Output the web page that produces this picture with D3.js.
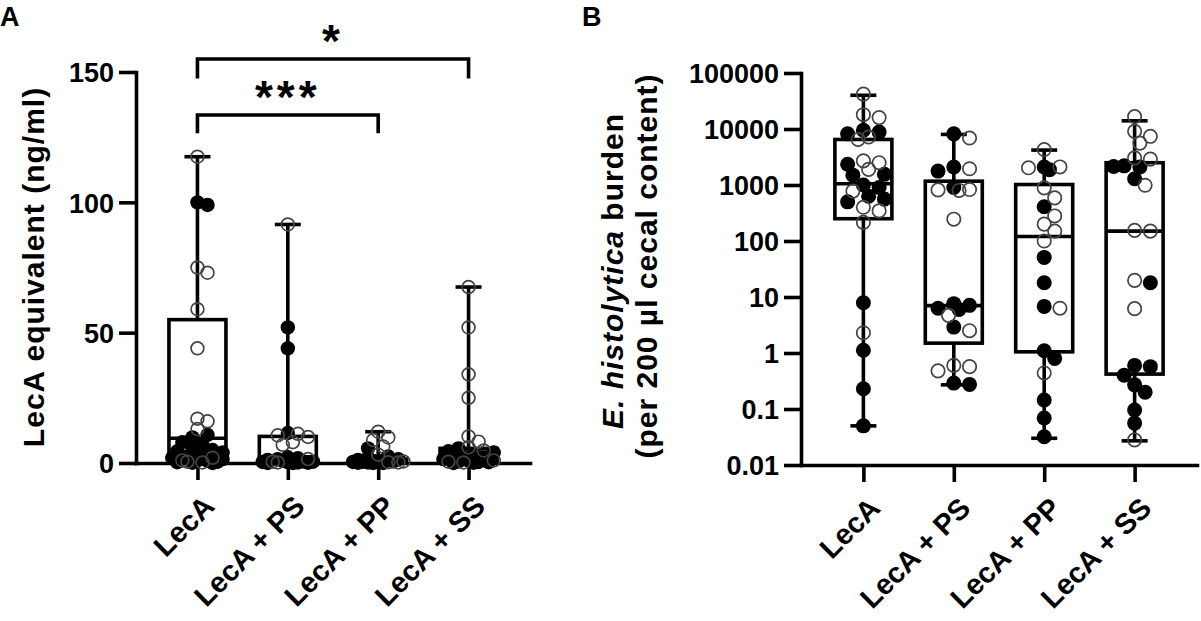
<!DOCTYPE html>
<html>
<head>
<meta charset="utf-8">
<script src="https://cdn.jsdelivr.net/npm/d3@7/dist/d3.min.js"></script>
<style>
  body { margin: 0; background: #fff; }
  text { font-family: "Liberation Sans", Arial, sans-serif; font-weight: bold; fill: #000; }
</style>
</head>
<body>
<div id="graph"></div>
<script>
// group names (same for both panels)
const groups = ["LecA", "LecA + PS", "LecA + PP", "LecA + SS"];

// panel A - LecA equivalent (ng/ml), one list per group
const aFilled = [
  [100, 99, 10.8, 9.8, 8, 7, 6, 5, 4.5, 4, 3, 2.5, 2, 1.5, 1, 0.8, 0.5, 0.3, 0.1, 0],
  [52, 44, 11.5, 2.2, 1.8, 1.5, 1.2, 1, 0.8, 0.6, 0.5, 0.4, 0.3, 0.2, 0.1, 0, 0],
  [5.6, 2.5, 2, 1.5, 1.2, 1, 0.8, 0.6, 0.5, 0.4, 0.3, 0.2, 0.1, 0, 0],
  [5.6, 4.5, 4, 3, 2.2, 1.8, 1.5, 1.2, 0.9, 0.6, 0.4, 0.3, 0.1, 0]
];
const aOpen = [
  [117.5, 75, 73, 59, 44, 17, 16, 13, 2, 1, 0.5, 0.2],
  [91.5, 11.2, 10.6, 10, 8, 7, 1.5, 0.5, 0.2],
  [12, 9.8, 8.8, 6.3, 3.2, 0.6, 0.3, 0.2],
  [67.5, 52, 34, 25, 10.2, 8.2, 6, 4.8, 1, 0.5, 0.2]
];
// box + whiskers (min to max)
const aMin = [0, 0, 0, 0];
const aQ1 = [0.4, 0.3, 0.2, 0.4];
const aMed = [9.5, 2.4, 0.6, 4.2];
const aQ3 = [55, 10.2, 1.5, 5.6];
const aMax = [117.5, 91.5, 12, 67.5];
const aTicks = [0, 50, 100, 150];

// significance brackets on panel A
const sigFrom = ["LecA", "LecA"];
const sigTo = ["LecA + SS", "LecA + PP"];
const sigText = ["*", "***"];
const sigBar = [155, 133.5];
const sigDrop = [147.5, 126.5];

// panel B - E. histolytica burden (per 200 ul cecal content)
const bFilled = [
  [9500, 8800, 8200, 2350, 1550, 1500, 1000, 900, 630, 560, 500, 7.9, 1.12, 0.23, 0.05],
  [8200, 2100, 1770, 900, 7.6, 7.1, 6.3, 6.0, 2.9, 0.29, 0.275],
  [2100, 1880, 410, 51, 18, 6.8, 1.1, 0.8, 0.145, 0.069, 0.032],
  [2200, 2140, 2100, 1290, 18, 0.6, 0.57, 0.4, 0.27, 0.2, 0.096, 0.056]
];
const bOpen = [
  [42000, 18000, 16000, 7200, 6500, 2700, 2500, 1900, 780, 400, 345, 215, 2.3],
  [6900, 1950, 830, 820, 800, 245, 4.7, 2.5, 0.6, 0.57, 0.48],
  [4300, 2100, 2030, 890, 590, 280, 200, 150, 100, 6.3, 0.44],
  [16700, 9100, 7400, 5600, 3050, 2900, 990, 155, 150, 19.8, 6.2, 0.028]
];
const bMin = [0.05, 0.27, 0.03, 0.027];
const bQ1 = [250, 1.5, 1.05, 0.42];
const bMed = [1050, 7, 120, 150];
const bQ3 = [6500, 1170, 1020, 2500];
const bMax = [40000, 8000, 4200, 14000];
const bTicks = [0.01, 0.1, 1, 10, 100, 1000, 10000, 100000];

const W = 1201, H = 621;
const lw = 3.6;

const svg = d3.select("#graph")
  .append("svg")
    .attr("width", W)
    .attr("height", H);

// simple deterministic swarm: spread points of similar value sideways
function swarm(filled, open, cx, y, r, maxOff, tight) {
  const pts = filled.map(v => ({v: v, filled: true}))
    .concat(open.map(v => ({v: v, filled: false})))
    .map(p => { p.py = y(p.v); return p; })
    .sort((a, b) => a.py - b.py);
  const placed = [];
  const step = r * 0.7, minD = r * tight;
  pts.forEach(p => {
    let best = 0, bestD = -1, done = false;
    for (let k = 0; k * step <= maxOff && !done; k++) {
      const cands = k === 0 ? [0] : [k * step, -k * step];
      for (const off of cands) {
        let d = Infinity;
        placed.forEach(q => { d = Math.min(d, Math.hypot(q.dx - off, q.py - p.py)); });
        if (d >= minD) { best = off; done = true; break; }
        if (d > bestD) { bestD = d; best = off; }
      }
    }
    p.dx = best;
    p.cx = cx + best;
    placed.push(p);
  });
  return pts;
}

function drawPanel(o) {
  const g = svg.append("g");

  // y axis
  const yAxis = g.append("g")
    .attr("transform", "translate(" + o.x.range()[0] + ",0)")
    .call(d3.axisLeft(o.y).tickValues(o.ticks).tickFormat(o.fmt)
      .tickSize(17).tickSizeOuter(0).tickPadding(5));

  // x axis
  const xAxis = g.append("g")
    .attr("transform", "translate(0," + o.y.range()[0] + ")")
    .call(d3.axisBottom(o.x).tickSize(17).tickSizeOuter(0));

  [yAxis, xAxis].forEach(a => {
    a.select(".domain").attr("stroke", "#000").attr("stroke-width", lw).attr("stroke-linecap", "square");
    a.selectAll(".tick line").attr("stroke", "#000").attr("stroke-width", lw);
  });
  yAxis.selectAll(".tick text")
    .style("font-size", "27px")
    .attr("dy", "0.36em");
  xAxis.selectAll(".tick text")
    .style("font-size", "29px")
    .attr("text-anchor", "end")
    .attr("x", 0).attr("y", 0).attr("dy", 0)
    .attr("transform", "translate(18,45) rotate(-45)");

  // boxes and whiskers
  groups.forEach((name, i) => {
    const cx = o.x(name);
    const hw = 28.5, cw = 13;
    const box = g.append("g")
      .attr("stroke", "#000")
      .attr("stroke-width", lw)
      .attr("fill", "none");
    box.append("line")
      .attr("x1", cx).attr("x2", cx)
      .attr("y1", o.y(o.max[i])).attr("y2", o.y(o.q3[i]));
    box.append("line")
      .attr("x1", cx).attr("x2", cx)
      .attr("y1", o.y(o.q1[i])).attr("y2", o.y(o.min[i]));
    [o.max[i], o.min[i]].forEach(v => {
      box.append("line")
        .attr("x1", cx - cw).attr("x2", cx + cw)
        .attr("y1", o.y(v)).attr("y2", o.y(v));
    });
    box.append("rect")
      .attr("x", cx - hw)
      .attr("width", hw * 2)
      .attr("y", o.y(o.q3[i]))
      .attr("height", o.y(o.q1[i]) - o.y(o.q3[i]));
    box.append("line")
      .attr("x1", cx - hw).attr("x2", cx + hw)
      .attr("y1", o.y(o.med[i])).attr("y2", o.y(o.med[i]));

    // points
    const pts = swarm(o.filled[i], o.open[i], cx, o.y, o.r, o.spread, o.tight);
    g.selectAll(null)
      .data(pts.filter(p => p.filled))
      .enter()
      .append("circle")
        .attr("cx", p => p.cx)
        .attr("cy", p => p.py)
        .attr("r", o.r)
        .attr("fill", "#000");
    g.selectAll(null)
      .data(pts.filter(p => !p.filled))
      .enter()
      .append("circle")
        .attr("cx", p => p.cx)
        .attr("cy", p => p.py)
        .attr("r", o.r - 0.8)
        .attr("fill", "none")
        .attr("stroke", "#444")
        .attr("stroke-width", 1.7);
  });

  return g;
}

// panel A scales
const xA = d3.scalePoint().domain(groups).range([136, 530]).padding(0.68);
const yA = d3.scaleLinear().domain([0, 150]).range([463, 72]);

drawPanel({
  x: xA, y: yA, ticks: aTicks, fmt: d3.format("d"),
  filled: aFilled, open: aOpen,
  min: aMin, q1: aQ1, med: aMed, q3: aQ3, max: aMax,
  r: 7.2, spread: 27, tight: 1.3
});

// panel B scales
const xB = d3.scalePoint().domain(groups).range([801, 1197]).padding(0.69);
const yB = d3.scaleLog().domain([0.01, 100000]).range([465, 73]);

drawPanel({
  x: xB, y: yB, ticks: bTicks, fmt: d => String(d),
  filled: bFilled, open: bOpen,
  min: bMin, q1: bQ1, med: bMed, q3: bQ3, max: bMax,
  r: 7.5, spread: 24, tight: 1.6
});

// significance brackets
sigText.forEach((t, i) => {
  const x1 = xA(sigFrom[i]), x2 = xA(sigTo[i]);
  svg.append("path")
    .attr("d", "M" + x1 + "," + yA(sigDrop[i]) + "V" + yA(sigBar[i]) + "H" + x2 + "V" + yA(sigDrop[i]))
    .attr("fill", "none")
    .attr("stroke", "#000")
    .attr("stroke-width", lw);
  svg.append("text")
    .attr("x", (x1 + x2) / 2)
    .attr("y", yA(sigBar[i]) - 2)
    .attr("text-anchor", "middle")
    .style("font-size", "46px")
    .style("letter-spacing", "4px")
    .text(t);
});

// axis titles
svg.append("text")
  .attr("transform", "translate(44,267) rotate(-90)")
  .attr("text-anchor", "middle")
  .style("font-size", "30px")
  .style("letter-spacing", "1px")
  .text("LecA equivalent (ng/ml)");

const tB = svg.append("text")
  .attr("transform", "translate(623,271) rotate(-90)")
  .attr("text-anchor", "middle")
  .style("font-size", "30px")
  .style("letter-spacing", "1px");
tB.append("tspan").style("font-style", "italic").text("E. histolytica");
tB.append("tspan").text(" burden");

svg.append("text")
  .attr("transform", "translate(657,266) rotate(-90)")
  .attr("text-anchor", "middle")
  .style("font-size", "30px")
  .style("letter-spacing", "1px")
  .text("(per 200 \u00b5l cecal content)");

// panel letters
svg.append("text").attr("x", 0).attr("y", 26).style("font-size", "27px").text("A");
svg.append("text").attr("x", 582).attr("y", 26).style("font-size", "27px").text("B");
</script>
</body>
</html>
